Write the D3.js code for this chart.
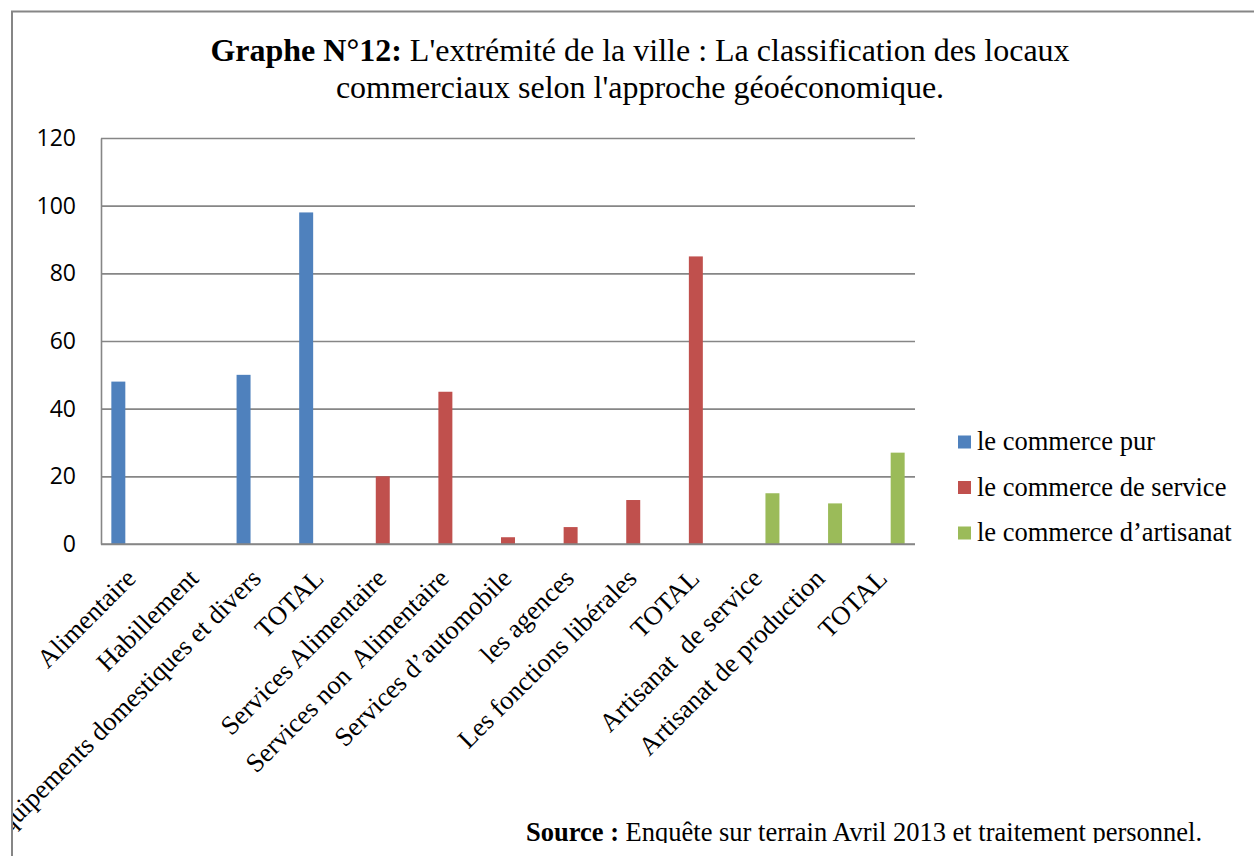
<!DOCTYPE html>
<html>
<head>
<meta charset="utf-8">
<script src="https://cdn.jsdelivr.net/npm/d3@7"></script>
<style>
  body { margin: 0; background: #fff; }
  svg { display: block; }
  .xlab { white-space: pre; }
</style>
</head>
<body>
<svg id="chart"></svg>
<script>
// données du graphique
const categories = ["Alimentaire", "Habillement", "Équipements domestiques et divers", "TOTAL",
    "Services Alimentaire", "Services non  Alimentaire", "Services d’automobile", "les agences",
    "Les fonctions libérales", "TOTAL", "Artisanat  de service", "Artisanat de production", "TOTAL"];
const seriesNames = ["le commerce pur", "le commerce de service", "le commerce d’artisanat"];
const commercePur = [48, 0, 50, 98, 0, 0, 0, 0, 0, 0, 0, 0, 0];
const commerceService = [0, 0, 0, 0, 20, 45, 2, 5, 13, 85, 0, 0, 0];
const commerceArtisanat = [0, 0, 0, 0, 0, 0, 0, 0, 0, 0, 15, 12, 27];
const yTicks = [0, 20, 40, 60, 80, 100, 120];
const colors = ["#4F81BD", "#C0504D", "#9BBB59"];

function drawChart() {
    const W = 1254, H = 856;
    const plot = { left: 101, right: 915, top: 138, bottom: 544 };
    const series = [commercePur, commerceService, commerceArtisanat];

    const svg = d3.select("#chart").attr("width", W).attr("height", H);

    svg.append("defs").append("clipPath").attr("id", "clip")
        .append("rect").attr("x", 13).attr("y", 12).attr("width", W).attr("height", 831);

    const root = svg.append("g").attr("clip-path", "url(#clip)");

    const x0 = d3.scaleBand()
        .domain(d3.range(categories.length))
        .range([plot.left, plot.right])
        .padding(0);

    const x1 = d3.scaleBand()
        .domain(d3.range(series.length))
        .range([0, x0.bandwidth()])
        .paddingInner(0)
        .paddingOuter(0.74);

    const y = d3.scaleLinear()
        .domain([0, 120])
        .range([plot.bottom, plot.top]);

    // grille
    root.append("g")
        .attr("transform", `translate(${plot.left},0)`)
        .call(d3.axisLeft(y).tickValues(yTicks).tickSize(-(plot.right - plot.left)).tickFormat(""))
        .call(g => g.select(".domain").remove())
        .selectAll("line")
        .attr("stroke", "#868686")
        .attr("stroke-width", 1.6);

    // axe oy
    const yAxis = root.append("g")
        .attr("transform", `translate(${plot.left},0)`)
        .call(d3.axisLeft(y).tickValues(yTicks).tickSize(0).tickPadding(25));
    yAxis.select(".domain").attr("stroke", "#868686").attr("stroke-width", 1.6);
    yAxis.selectAll("text")
        .style("font-family", "'Open Sans', sans-serif")
        .style("font-size", "23px")
        .style("fill", "#000");

    // barres
    series.forEach((vals, s) => {
        root.append("g").selectAll("rect")
            .data(vals.map((v, i) => ({ i, v })).filter(d => d.v > 0))
            .enter()
            .append("rect")
            .attr("x", d => x0(d.i) + x1(s))
            .attr("y", d => y(d.v))
            .attr("width", x1.bandwidth())
            .attr("height", d => y(0) - y(d.v))
            .attr("fill", colors[s]);
    });

    // axe ox
    root.append("line")
        .attr("x1", plot.left).attr("x2", plot.right)
        .attr("y1", y(0)).attr("y2", y(0))
        .attr("stroke", "#868686").attr("stroke-width", 1.6);

    // étiquettes ox
    root.append("g").selectAll("text")
        .data(categories)
        .enter()
        .append("text")
        .attr("class", "xlab")
        .attr("transform", (d, i) => `translate(${x0(i) + x0.bandwidth() / 2 + 5},580) rotate(-45)`)
        .attr("text-anchor", "end")
        .style("font-family", "'Liberation Serif', 'Times New Roman', serif")
        .style("font-size", "26.5px")
        .style("fill", "#000")
        .text(d => d);

    // titre
    const title = root.append("text")
        .attr("x", 640).attr("y", 61)
        .attr("text-anchor", "middle")
        .style("font-family", "'Liberation Serif', 'Times New Roman', serif")
        .style("font-size", "32px")
        .style("fill", "#000");
    title.append("tspan").style("font-weight", "bold").text("Graphe N°12:");
    title.append("tspan").text(" L'extrémité de la ville : La classification des locaux");
    root.append("text")
        .attr("x", 640).attr("y", 98)
        .attr("text-anchor", "middle")
        .style("font-family", "'Liberation Serif', 'Times New Roman', serif")
        .style("font-size", "32px")
        .style("fill", "#000")
        .text("commerciaux selon l'approche géoéconomique.");

    // légende
    const legend = root.append("g");
    seriesNames.forEach((name, s) => {
        const cy = 442 + s * 45.5;
        legend.append("rect")
            .attr("x", 958).attr("y", cy - 6.5)
            .attr("width", 13).attr("height", 13)
            .attr("fill", colors[s]);
        legend.append("text")
            .attr("x", 977).attr("y", cy + 8)
            .style("font-family", "'Liberation Serif', 'Times New Roman', serif")
            .style("font-size", "26.5px")
            .style("fill", "#000")
            .text(name);
    });

    // source
    const src = root.append("text")
        .attr("x", 526).attr("y", 841)
        .style("font-family", "'Liberation Serif', 'Times New Roman', serif")
        .style("font-size", "26.5px")
        .style("fill", "#000");
    src.append("tspan").style("font-weight", "bold").text("Source :");
    src.append("tspan").text(" Enquête sur terrain Avril 2013 et traitement personnel.");

    // cadre
    svg.append("path")
        .attr("d", `M12,${H} L12,11.5 L${W},11.5`)
        .attr("fill", "none")
        .attr("stroke", "#868686")
        .attr("stroke-width", 2);
}

drawChart();
</script>
</body>
</html>
